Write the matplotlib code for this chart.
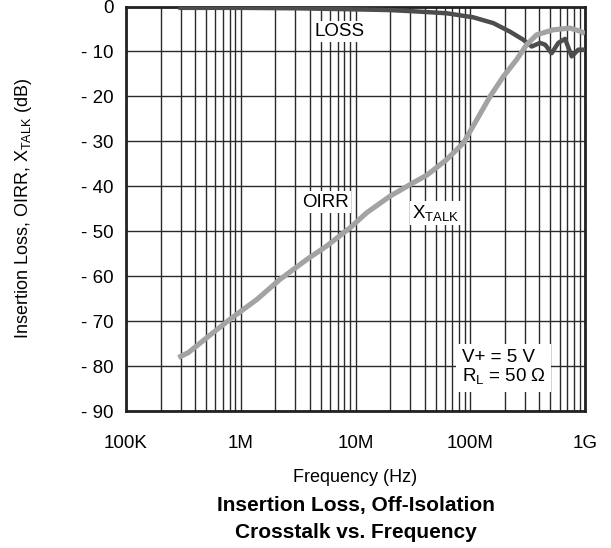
import numpy as np
import matplotlib
matplotlib.use("Agg")
import matplotlib.pyplot as plt
from matplotlib.ticker import FixedLocator, LogLocator, NullFormatter

plt.rcParams['font.family'] = ['Liberation Sans', 'DejaVu Sans']
plt.rcParams['mathtext.default'] = 'regular'

# Insertion loss (dark trace)
loss_f = [2.86e5, 1e6, 3e6, 8.4e6, 2e7, 3.4e7, 6.2e7, 1.06e8, 1.59e8, 2.22e8,
          2.9e8, 3.43e8, 4.05e8, 4.5e8, 5.12e8, 5.85e8, 6.7e8, 7.66e8, 8.75e8, 1e9]
loss_db = [-0.3, -0.3, -0.4, -0.6, -0.8, -1.1, -1.5, -2.4, -3.7, -5.6,
           -7.4, -8.9, -8.1, -8.5, -10.4, -8.1, -7.2, -11.1, -9.6, -9.6]

# OIRR / crosstalk (light trace)
xt_f = [2.86e5, 3.5e5, 5.05e5, 8.05e5, 1.38e6, 2.2e6, 3.76e6, 5.6e6, 9e6, 1.25e7,
        2e7, 3.19e7, 4.2e7, 6.2e7, 8.7e7, 1.14e8, 1.49e8, 1.94e8, 2.54e8, 3.1e8,
        3.79e8, 5.26e8, 7.4e8, 9.05e8, 1e9]
xt_db = [-78.1, -77.0, -73.7, -69.6, -65.2, -60.7, -56.3, -53.3, -49.2, -45.9,
         -42.2, -39.2, -37.5, -34.1, -30.4, -25.2, -20.0, -15.6, -11.8, -8.5,
         -6.3, -5.2, -4.8, -5.5, -6.0]

x_ticks = [1e5, 1e6, 1e7, 1e8, 1e9]
x_labels = ['100K', '1M', '10M', '100M', '1G']
y_ticks = list(range(-90, 1, 10))
y_labels = ['0' if v == 0 else '- %d' % abs(v) for v in y_ticks]

fig = plt.figure(figsize=(6.11, 5.48), dpi=100)
ax = fig.add_axes([126 / 611, 1 - 411 / 548, 459 / 611, 404.5 / 548])

ax.plot(loss_f, loss_db, color='#4d4d4d', lw=3.2, solid_capstyle='butt', zorder=3)
ax.plot(xt_f, xt_db, color='#a3a3a3', lw=3.7, solid_capstyle='butt', zorder=4)

ax.set_xscale('log')
ax.set_xlim(1e5, 1e9)
ax.set_ylim(-90, 0)
ax.xaxis.set_major_locator(FixedLocator(x_ticks))
ax.set_xticklabels(x_labels)
ax.xaxis.set_minor_locator(LogLocator(base=10, subs=np.arange(2, 10)))
ax.xaxis.set_minor_formatter(NullFormatter())
ax.set_yticks(y_ticks)
ax.set_yticklabels(y_labels)

ax.set_axisbelow(True)
ax.grid(True, which='major', color='#2a2a2a', lw=1.0)
ax.grid(True, which='minor', axis='x', color='#2a2a2a', lw=1.0)
ax.tick_params(axis='both', which='both', length=0, labelsize=13.5)
ax.tick_params(axis='x', pad=17)
ax.tick_params(axis='y', pad=9)
for s in ax.spines.values():
    s.set_linewidth(2.0)
    s.set_color('#222222')

box = dict(facecolor='white', edgecolor='none', pad=1.5)
ax.text(7.3e6, -5.6, 'LOSS', ha='center', va='center', fontsize=13.5, bbox=box, zorder=5)
ax.text(5.5e6, -43.5, 'OIRR', ha='center', va='center', fontsize=13.5, bbox=box, zorder=5)
ax.text(5.0e7, -45.9, r'X$_{TALK}$', ha='center', va='center', fontsize=13.5, bbox=box, zorder=5)
ax.text(8.4e7, -80.3, 'V+ = 5 V\nR$_{L}$ = 50 \u03a9', ha='left', va='center',
        fontsize=13.5, linespacing=1.0, bbox=dict(facecolor='white', edgecolor='none', pad=4), zorder=5)

ax.set_ylabel(r'Insertion Loss, OIRR, X$_{TALK}$ (dB)', fontsize=13)
ax.yaxis.set_label_coords(-92 / 459, 0.5)

fig.text((126 + 585) / 2 / 611, 1 - 477 / 548, 'Frequency (Hz)', ha='center', va='center', fontsize=13)
fig.text((126 + 585) / 2 / 611, 1 - 505 / 548, 'Insertion Loss, Off-Isolation',
         ha='center', va='center', fontsize=15, fontweight='bold')
fig.text((126 + 585) / 2 / 611, 1 - 532 / 548, 'Crosstalk vs. Frequency',
         ha='center', va='center', fontsize=15, fontweight='bold')

fig.savefig('out.png', dpi=100)
